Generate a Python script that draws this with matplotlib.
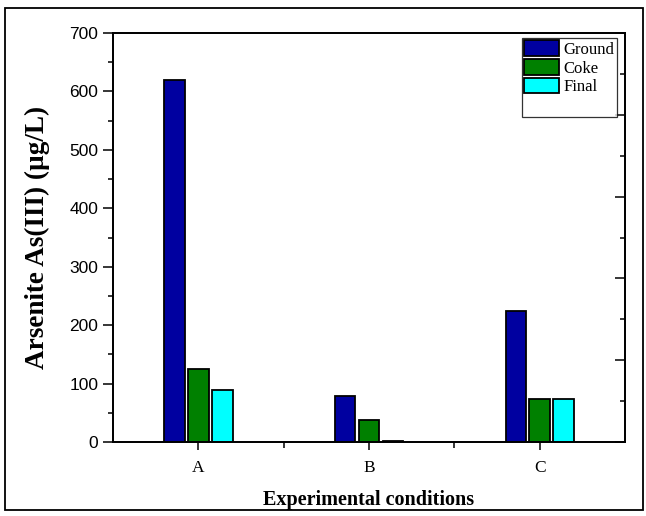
import matplotlib
matplotlib.use("Agg")
import matplotlib.pyplot as plt
from matplotlib.patches import Patch, Rectangle
from matplotlib.ticker import MultipleLocator, FixedLocator, NullFormatter
import numpy as np

# Arsenite concentrations per experimental condition
conditions = ["A", "B", "C"]
series_names = ["Ground", "Coke", "Final"]
ground = [619, 79, 224]
coke = [125, 37, 74]
final = [89, 2, 74]
series_colors = ["#0000A0", "#008000", "#00FFFF"]

fig = plt.figure(figsize=(6.46, 5.16), dpi=100)
ax = fig.add_axes([0.175, 0.1434, 0.7925, 0.7926])

x = np.arange(1, len(conditions) + 1)
width = 0.12
offset = 0.14
handles = []
for i, (vals, col, name) in enumerate(zip([ground, coke, final], series_colors, series_names)):
    b = ax.bar(x + (i - 1) * offset, vals, width=width, color=col,
               edgecolor="black", linewidth=1.3, label=name, zorder=3)
    handles.append(b)

ax.set_xlim(0.5, 3.5)
ax.set_ylim(0, 700)

# left axis: labelled ticks pointing outward
ax.yaxis.set_major_locator(MultipleLocator(100))
ax.yaxis.set_minor_locator(MultipleLocator(50))
ax.tick_params(axis="y", which="major", direction="out", length=7, width=1.1,
               labelsize=12.5, right=False)
ax.tick_params(axis="y", which="minor", direction="out", length=3.5, width=1.1, right=False)
for lbl in ax.get_yticklabels():
    lbl.set_fontfamily("Liberation Sans")

ax.set_xticks(x)
ax.set_xticklabels(conditions, fontfamily="Liberation Serif", fontsize=12.5)
ax.xaxis.set_minor_locator(FixedLocator([1.5, 2.5]))
ax.tick_params(axis="x", which="major", direction="out", length=6, width=1.1, top=False, pad=7)
ax.tick_params(axis="x", which="minor", direction="out", length=4, width=1.1, top=False)

for sp in ax.spines.values():
    sp.set_linewidth(1.3)

# right axis: unlabelled ticks pointing inward
ax2 = ax.twinx()
ax2.set_ylim(0, 5)
ax2.yaxis.set_major_locator(MultipleLocator(1))
ax2.yaxis.set_minor_locator(MultipleLocator(0.5))
ax2.yaxis.set_major_formatter(NullFormatter())
ax2.tick_params(axis="y", which="major", direction="in", length=7, width=1.1)
ax2.tick_params(axis="y", which="minor", direction="in", length=3.5, width=1.1)
for sp in ax2.spines.values():
    sp.set_linewidth(1.3)

ax.set_ylabel("Arsenite As(III) (µg/L)", fontfamily="Liberation Serif",
              fontweight="bold", fontsize=19.5, labelpad=14)
ax.set_xlabel("Experimental conditions", fontfamily="Liberation Serif",
              fontweight="bold", fontsize=14.5, labelpad=10)

leg_handles = handles + [Patch(visible=False)]
leg_labels = series_names + [""]
leg = ax2.legend(leg_handles, leg_labels, loc="upper right", bbox_to_anchor=(0.984, 0.988),
                 prop={"family": "Liberation Serif", "size": 12}, frameon=True,
                 fancybox=False, edgecolor="black", handlelength=2.1, handleheight=1.05,
                 handletextpad=0.25, labelspacing=0.08, borderpad=0.15, borderaxespad=0)
leg.get_frame().set_linewidth(0.9)

# outer frame around the whole figure
fig.patches.append(Rectangle((5 / 646, 6 / 516), 638 / 646, 502 / 516,
                             transform=fig.transFigure, fill=False,
                             edgecolor="black", linewidth=1.3))

fig.savefig("out.png", dpi=100)
